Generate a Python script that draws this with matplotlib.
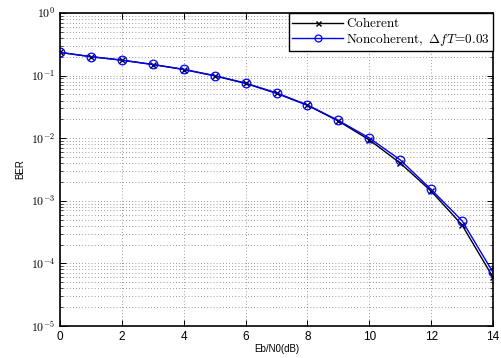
import numpy as np
import matplotlib
matplotlib.use("Agg")
import matplotlib.pyplot as plt
from matplotlib.ticker import FuncFormatter, LogLocator, NullFormatter

plt.rcParams.update({
    "font.family": ["Liberation Sans", "DejaVu Sans"],
    "mathtext.fontset": "cm",
    "xtick.direction": "in", "ytick.direction": "in",
    "xtick.top": True, "ytick.right": True,
})

ebn0 = [0, 1, 2, 3, 4, 5, 6, 7, 8, 9, 10, 11, 12, 13, 14]
ber_coh = [0.235, 0.200, 0.176, 0.150, 0.125, 0.099, 0.075, 0.052, 0.0335,
           0.0188, 0.0094, 0.0040, 0.00143, 0.00041, 6.0e-5]
ber_nc = [0.235, 0.201, 0.177, 0.151, 0.126, 0.100, 0.076, 0.053, 0.0340,
          0.0192, 0.0101, 0.0045, 0.00152, 0.00048, 7.2e-5]

fig = plt.figure(figsize=(5.01, 3.58), dpi=100)
ax = fig.add_axes([60 / 501, 1 - 326 / 358, 433 / 501, 313 / 358])

ax.semilogy(ebn0, ber_coh, "-x", color="black", lw=1.0, ms=4.5, mew=1.0,
            label=r"$\mathrm{Coherent}$")
ax.semilogy(ebn0, ber_nc, "-o", color="blue", lw=1.0, ms=6.2, mew=0.9,
            mfc="none", label=r"$\mathrm{Noncoherent,}\ \Delta f T\!=\!0.03$")

ax.set_xlim(0, 14)
ax.set_ylim(1e-5, 1)
ax.set_xticks(range(0, 15, 2))
ax.yaxis.set_major_locator(LogLocator(base=10, numticks=10))
ax.yaxis.set_minor_locator(LogLocator(base=10, subs=np.arange(2, 10), numticks=20))
ax.yaxis.set_minor_formatter(NullFormatter())
ax.yaxis.set_major_formatter(FuncFormatter(lambda v, p: r"$\mathsf{10^{%d}}$" % round(np.log10(v))))
ax.tick_params(labelsize=8.5, length=4, width=0.7)
ax.tick_params(which="minor", length=2, width=0.5)

grid_ls = (0, (1, 3.5))
ax.grid(True, which="major", axis="x", ls=grid_ls, color="0.25", lw=0.5)
ax.grid(True, which="both", axis="y", ls=grid_ls, color="0.25", lw=0.5)
for s in ax.spines.values():
    s.set_linewidth(1.2)

ax.set_xlabel("Eb/N0(dB)", fontsize=7, labelpad=1)
ax.set_ylabel("BER", fontsize=7, labelpad=4)

leg = ax.legend(loc="upper right", fontsize=9.5, fancybox=False, framealpha=1,
                edgecolor="black", borderaxespad=0, handlelength=3.8,
                borderpad=0.25, labelspacing=0.05, handletextpad=0.25,
                markerscale=0.8)
leg.get_frame().set_linewidth(1.0)

fig.savefig("out.png", dpi=100)
